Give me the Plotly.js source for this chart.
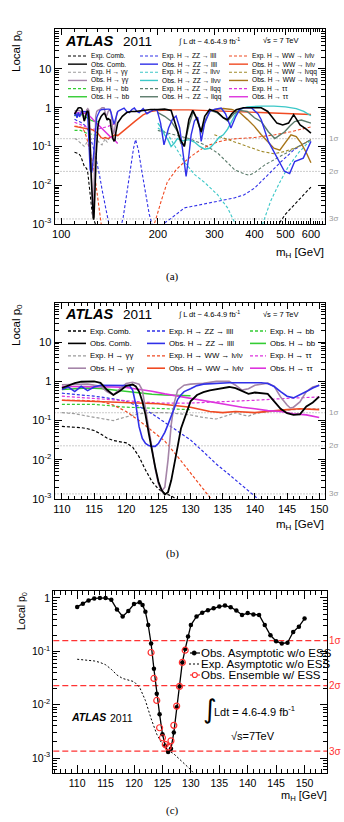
<!DOCTYPE html>
<html>
<head>
<meta charset="utf-8">
<script src="https://cdn.plot.ly/plotly-3.0.1.min.js"></script>
<style>
  html, body { margin: 0; padding: 0; background: #fff; }
  #fig { width: 344px; height: 822px; }
</style>
</head>
<body>
<div id="fig"></div>
<script>
// ---------- Local p0 scans, 110-150 GeV ----------
const combObsMass = [110,111,112,113,114,115,116,117,118,119,120,
  121,121.5,122,122.5,123,123.5,124,124.5,125,125.5,126,126.5,127,127.5,128,128.5,129,129.5,130,
  131,132,133,134,135,136,137,138,139,140,141,142,143,144,145,146,147,148,149,150];
const combObsP = [0.68,0.78,0.90,0.98,1.0,1.0,0.92,0.61,0.45,0.57,0.77,
  0.83,0.74,0.55,0.31,0.14,0.047,0.016,0.0066,0.0028,0.0017,0.0013,0.0015,0.003,0.009,0.022,0.062,0.11,0.19,0.31,
  0.45,0.53,0.59,0.64,0.69,0.72,0.67,0.58,0.48,0.52,0.49,0.48,0.31,0.20,0.155,0.14,0.145,0.23,0.29,0.41];
const combExpMass = [110,111,112,113,114,115,116,117,118,119,120,121,122,123,124,125,126,127,128,129,130,131];
const combExpP = [0.071,0.070,0.068,0.066,0.062,0.056,0.046,0.036,0.031,0.029,0.027,0.021,0.012,0.0055,0.0028,0.0018,0.0014,0.0012,0.00095,0.00075,0.0006,0.00045];
const ensMass = [123,123.5,124,124.5,125,125.5,126,126.5,127,127.5,128,128.5,129];
const ensP = [0.095,0.031,0.012,0.0037,0.0024,0.0018,0.0016,0.0021,0.0041,0.0094,0.022,0.062,0.105];

const ggObsMass = [110,112,114,116,117,118,119,120,121,122,122.5,123,123.5,124,124.5,125,125.5,126,126.5,127,
  127.5,128,129,130,132,134,136,137,138,139,140,142,143,144,145,145.5,146,147,148,149,150];
const ggObsP = [0.82,0.84,0.85,0.75,0.55,0.45,0.65,0.88,0.95,0.85,0.6,0.2,0.07,0.02,0.006,0.0025,0.0016,0.002,0.01,0.08,
  0.3,0.6,0.8,0.85,0.9,1.0,1.0,0.8,0.6,0.65,0.8,0.9,0.75,0.4,0.25,0.21,0.22,0.3,0.55,0.72,0.8];
const ggExpMass = [110,112,114,116,118,120,122,124,126,128,130,132,134,136,137,138,139,140,142,144,146,148,150];
const ggExpP = [0.16,0.15,0.13,0.115,0.1,0.125,0.15,0.16,0.16,0.15,0.14,0.12,0.11,0.14,0.16,0.14,0.13,0.15,0.17,0.18,0.19,0.2,0.2];

const bbExpMass = [110,115,120,125,130];
const bbExpP = [0.26,0.26,0.22,0.2,0.19];
const bbObsMass = [110,112,114,116,118,120,122,124,126,128,130];
const bbObsP = [0.62,0.65,0.68,0.66,0.6,0.55,0.5,0.47,0.45,0.44,0.43];

const ttExpMass = [110,115,120,125,130,135,140,145,150];
const ttExpP = [0.42,0.37,0.32,0.28,0.28,0.3,0.33,0.37,0.4];
const ttObsMass = [110,114,118,120,122,124,126,128,130,132,134,136,138,140,142,144,146,148,150];
const ttObsP = [0.74,0.74,0.72,0.7,0.64,0.56,0.48,0.42,0.37,0.32,0.28,0.25,0.22,0.2,0.18,0.17,0.15,0.14,0.12];

const zz4lObsMass = [110,111,112,113,114,115,116,117,118,119,120,
  120.5,121,121.5,122,122.5,123,123.5,124,124.5,125,125.5,126,126.5,127,127.5,128,128.5,129,
  130,131,132,134,136,138,140,141,142,143,144,145,146,147,148,149,150];
const zz4lObsP = [0.62,0.72,0.55,0.75,0.58,0.72,0.8,0.8,0.8,0.8,0.8,
  0.78,0.6,0.25,0.07,0.035,0.026,0.023,0.022,0.022,0.026,0.035,0.05,0.08,0.13,0.22,0.35,0.45,0.55,
  0.65,0.78,0.85,0.9,0.92,0.92,0.92,0.92,0.88,0.74,0.55,0.42,0.38,0.45,0.55,0.68,0.8];
const zz4lExpMass = [110,115,118,120,122,124,126,128,130,132,134,136,138,140,140.5,142];
const zz4lExpP = [0.5,0.42,0.36,0.31,0.23,0.15,0.09,0.055,0.032,0.016,0.0078,0.0042,0.0022,0.0012,0.001,0.0007];

const ww2lExpMass = [110,113,116,118,120,122,124,126,128,130,132,133.2,134];
const ww2lExpP = [0.33,0.33,0.31,0.25,0.17,0.1,0.055,0.03,0.012,0.0045,0.0017,0.001,0.0007];
const ww2lObsMass = [110,115,120,125,130,133,135,137,140,143,145,147,150];
const ww2lObsP = [0.33,0.31,0.29,0.27,0.22,0.17,0.16,0.17,0.16,0.18,0.19,0.2,0.19];

// ---------- Local p0 scans above 150 GeV ----------
const combObsMassHigh = [155,160,165,170,180,190,200,210,220,228,235,242,250,257,265,273,280,290,307,320,
  330,340,351,370,400,420,440,451,470,490,511,530,555,580,600];
const combObsPHigh = [0.6,0.75,0.8,0.8,0.85,0.9,0.9,0.92,0.85,0.35,0.15,0.1,0.5,0.85,0.5,0.24,0.6,0.9,0.77,0.55,
  0.49,0.7,0.89,1.0,1.0,1.0,0.8,0.6,0.4,0.36,0.4,0.66,0.36,0.28,0.22];
const combExpMassHigh = [465,480,500,530,560,600];
const combExpPHigh = [0.0008,0.0011,0.0018,0.003,0.005,0.009];

const zz4lObsMassHigh = [152,157,160,163,166,169,172,175,180,185,190,195,199,204,209,216,222,228,234,240,
  245,250,254,260,266,270,273,280,290,300,315,325,338,350,360,372,391,410,420,442,470,496,515,534,568,600];
const zz4lObsPHigh = [0.85,0.98,0.8,0.75,0.9,0.98,0.8,0.75,0.95,0.7,0.8,0.9,0.85,0.4,0.11,0.3,0.5,0.61,0.3,0.06,
  0.017,0.06,0.2,0.45,0.57,0.3,0.135,0.4,0.8,0.9,0.98,0.7,0.3,0.6,0.9,1.0,1.0,0.7,0.49,0.135,0.05,0.023,0.02,0.041,0.05,0.135];
const zz4lExpMassHigh = [152,156,160,164,168,170.5,174,178,183,188,195,200,204,220,242,273,307,346,372,400,442,485,534,600];
const zz4lExpPHigh = [0.0006,0.0015,0.006,0.025,0.09,0.15,0.08,0.025,0.006,0.0018,0.0006,0.0006,0.0009,0.0014,0.0026,0.0032,0.0038,0.0047,0.0057,0.0084,0.019,0.041,0.085,0.15];

const zz2l2nuObsMass = [200,205,210,215,220,225,230,240,250,260,270,280,290,300,310,320,330,340,350,360,380,420,460,500,540,570,600];
const zz2l2nuObsP = [0.4,0.3,0.2,0.15,0.1,0.12,0.16,0.14,0.15,0.13,0.1,0.085,0.09,0.12,0.17,0.2,0.28,0.45,0.7,0.9,1.05,1.1,1.1,1.05,0.95,0.8,0.62];
const zz2l2nuExpMass = [200,214,230,242,260,279,307,330,351,362,390,420,450,480,510,550,600];
const zz2l2nuExpP = [0.3,0.22,0.08,0.04,0.019,0.012,0.0057,0.0026,0.0009,0.0005,0.0005,0.0008,0.004,0.012,0.03,0.07,0.15];

const zz2l2qObsMass = [200,210,220,230,236,242,250,258,265,273,282,292,305,320,330,345,360,380,400,420,442,463,480,497,515,534,560,600];
const zz2l2qObsP = [0.75,0.6,0.45,0.25,0.12,0.11,0.35,0.8,0.5,0.22,0.5,0.85,0.75,0.55,0.45,0.7,0.85,0.8,0.55,0.44,0.24,0.16,0.2,0.24,0.33,0.44,0.48,0.4];
const zz2l2qExpMass = [200,225,250,280,307,330,347,370,385,400,430,470,520,560,600];
const zz2l2qExpP = [0.26,0.2,0.16,0.11,0.068,0.038,0.025,0.02,0.018,0.021,0.033,0.05,0.08,0.11,0.15];

const ww2lExpMassHigh = [192,197,205,214,228,242,257,273,290,307,330,355,400,463,520,600];
const ww2lExpPHigh = [0.0007,0.0013,0.004,0.012,0.025,0.04,0.06,0.085,0.11,0.13,0.15,0.16,0.17,0.2,0.24,0.32];
const ww2lObsMassHigh = [155,160,170,180,190,200,220,250,280,300,350,400,450,500,550,600];
const ww2lObsPHigh = [0.24,0.3,0.45,0.65,0.8,0.85,0.88,0.88,0.85,0.85,0.8,0.75,0.72,0.7,0.68,0.67];

const wwlnqqExpMass = [300,340,380,420,460,500,550,600];
const wwlnqqExpP = [0.2,0.14,0.1,0.075,0.065,0.075,0.1,0.15];
const wwlnqqObsMass = [300,320,340,360,380,400,420,440,460,480,500,520,540,560,580,600];
const wwlnqqObsP = [0.9,0.95,0.9,0.75,0.5,0.33,0.2,0.13,0.09,0.08,0.13,0.2,0.18,0.12,0.07,0.038];

// ---------- significance levels and tick labels ----------
const sigmaP = [0.1587, 0.02275, 0.00135];
const sigmaLabels = ['1\u03c3', '2\u03c3', '3\u03c3'];
const yTickVals = [0.001, 0.01, 0.1, 1, 10];
const yTickText = ['10<sup>-3</sup>', '10<sup>-2</sup>', '10<sup>-1</sup>', '1', '10'];
const xTickValsA = [100, 200, 300, 400, 500, 600];
const xTickValsB = [110, 115, 120, 125, 130, 135, 140, 145, 150];

// ---------- styling ----------
const W = 344, H = 822;
const X = v => v / W;
const Y = v => 1 - v / H;
const FONT = 'Liberation Sans, Arial, Helvetica, sans-serif';
const SERIF = 'Liberation Serif, DejaVu Serif, serif';
const COL = {
  comb: '#000000', ggExp: '#9c9c9c', ggObs: '#a585a8', bb: '#33cc33',
  zz4l: '#3030e8', zz2l2nu: '#3cc8c8', zz2l2q: '#5a7a6a', ww2l: '#f04a22',
  wwlnqq: '#a8761a', wwlnqqExp: '#a08a2a', tt: '#dd33dd'
};
const EXP_DASH = '3px,2px';

function axisRef(n) { return n === 1 ? '' : String(n); }

function curve(m, p, color, exp, n, width) {
  return {
    type: 'scatter', mode: 'lines', x: m, y: p,
    xaxis: 'x' + axisRef(n), yaxis: 'y' + axisRef(n),
    line: { color: color, width: width || (exp ? 1.1 : 1.4), dash: exp ? EXP_DASH : 'solid' },
    hoverinfo: 'skip'
  };
}

const traces = [];

// Panel (a): 110-600 GeV
const A = 1;
traces.push(curve(combExpMass.concat(combExpMassHigh), combExpP.concat(combExpPHigh), COL.comb, true, A));
traces.push(curve(ggExpMass, ggExpP, COL.ggExp, true, A));
traces.push(curve(bbExpMass, bbExpP, COL.bb, true, A));
traces.push(curve(zz4lExpMass.concat(zz4lExpMassHigh), zz4lExpP.concat(zz4lExpPHigh), COL.zz4l, true, A));
traces.push(curve(zz2l2nuExpMass, zz2l2nuExpP, COL.zz2l2nu, true, A));
traces.push(curve(zz2l2qExpMass, zz2l2qExpP, COL.zz2l2q, true, A));
traces.push(curve(ww2lExpMass.concat(ww2lExpMassHigh), ww2lExpP.concat(ww2lExpPHigh), COL.ww2l, true, A));
traces.push(curve(wwlnqqExpMass, wwlnqqExpP, COL.wwlnqqExp, true, A));
traces.push(curve(ttExpMass, ttExpP, COL.tt, true, A));
traces.push(curve(ww2lObsMass.concat(ww2lObsMassHigh), ww2lObsP.concat(ww2lObsPHigh), COL.ww2l, false, A));
traces.push(curve(wwlnqqObsMass, wwlnqqObsP, COL.wwlnqq, false, A));
traces.push(curve(zz2l2nuObsMass, zz2l2nuObsP, COL.zz2l2nu, false, A));
traces.push(curve(zz2l2qObsMass, zz2l2qObsP, COL.zz2l2q, false, A));
traces.push(curve(bbObsMass, bbObsP, COL.bb, false, A));
traces.push(curve(ttObsMass, ttObsP, COL.tt, false, A));
traces.push(curve(ggObsMass, ggObsP, COL.ggObs, false, A));
traces.push(curve(zz4lObsMass.concat(zz4lObsMassHigh), zz4lObsP.concat(zz4lObsPHigh), COL.zz4l, false, A));
traces.push(curve(combObsMass.concat(combObsMassHigh), combObsP.concat(combObsPHigh), COL.comb, false, A, 1.6));

// Panel (b): 110-150 GeV
const B = 2;
traces.push(curve(combExpMass, combExpP, COL.comb, true, B, 1.2));
traces.push(curve(ggExpMass, ggExpP, COL.ggExp, true, B, 1.2));
traces.push(curve(bbExpMass, bbExpP, COL.bb, true, B, 1.2));
traces.push(curve(zz4lExpMass, zz4lExpP, COL.zz4l, true, B, 1.2));
traces.push(curve(ww2lExpMass, ww2lExpP, COL.ww2l, true, B, 1.2));
traces.push(curve(ttExpMass, ttExpP, COL.tt, true, B, 1.2));
traces.push(curve(ww2lObsMass, ww2lObsP, COL.ww2l, false, B, 1.6));
traces.push(curve(bbObsMass, bbObsP, COL.bb, false, B, 1.6));
traces.push(curve(ttObsMass, ttObsP, COL.tt, false, B, 1.6));
traces.push(curve(ggObsMass, ggObsP, COL.ggObs, false, B, 1.6));
traces.push(curve(zz4lObsMass, zz4lObsP, COL.zz4l, false, B, 1.6));
traces.push(curve(combObsMass, combObsP, COL.comb, false, B, 1.8));

// Panel (c): asymptotic vs ensemble
traces.push({
  type: 'scatter', mode: 'lines', x: combExpMass, y: combExpP, xaxis: 'x3', yaxis: 'y3',
  line: { color: '#000', width: 1, dash: '2px,2px' }, hoverinfo: 'skip'
});
traces.push({
  type: 'scatter', mode: 'lines+markers', x: combObsMass, y: combObsP, xaxis: 'x3', yaxis: 'y3',
  line: { color: '#000', width: 1.3 }, marker: { color: '#000', size: 4.5 }, hoverinfo: 'skip'
});
traces.push({
  type: 'scatter', mode: 'markers', x: ensMass, y: ensP, xaxis: 'x3', yaxis: 'y3',
  marker: { symbol: 'circle-open', color: '#ff3030', size: 6, line: { width: 1.2, color: '#ff3030' } },
  hoverinfo: 'skip'
});

// ---------- axes ----------
function logMinor(d0, d1) {
  const out = [];
  for (let d = d0; d <= d1; d++) for (let k = 2; k <= 9; k++) out.push(k * Math.pow(10, d));
  return out;
}
function linMinor(a, b, step, skip) {
  const out = [];
  for (let v = a; v <= b + 1e-9; v += step) if (!skip.includes(v)) out.push(v);
  return out;
}
function axis(extra, minorVals, minorLen) {
  return Object.assign({
    showline: true, linecolor: '#000', linewidth: 1, mirror: 'allticks',
    ticks: 'inside', ticklen: 7, tickwidth: 1, tickcolor: '#000',
    showgrid: false, zeroline: false, fixedrange: true, tickmode: 'array',
    tickfont: { family: FONT, size: 11, color: '#000' },
    minor: { tickmode: 'array', tickvals: minorVals, ticks: 'inside', ticklen: minorLen || 4, tickwidth: 1, tickcolor: '#000', showgrid: false }
  }, extra);
}

const layout = {
  width: W, height: H, margin: { l: 0, r: 0, t: 0, b: 0 },
  paper_bgcolor: '#fff', plot_bgcolor: '#fff', showlegend: false, hovermode: false,
  xaxis: axis({ type: 'log', range: [1.979, 2.822], domain: [X(54.5), X(325)], anchor: 'y',
    tickvals: xTickValsA, ticktext: xTickValsA.map(String), ticklen: 6 },
    linMinor(100, 650, 10, xTickValsA), 3),
  yaxis: axis({ type: 'log', range: [-3, 2.03], domain: [Y(224), Y(29)], anchor: 'x',
    tickvals: yTickVals, ticktext: yTickText }, logMinor(-3, 1), 4),
  xaxis2: axis({ range: [108.85, 150.9], domain: [X(54.5), X(325)], anchor: 'y2',
    tickvals: xTickValsB, ticktext: xTickValsB.map(String), ticklen: 6 },
    linMinor(109, 150, 1, xTickValsB), 3),
  yaxis2: axis({ type: 'log', range: [-3, 2], domain: [Y(499), Y(303)], anchor: 'x2',
    tickvals: yTickVals, ticktext: yTickText }, logMinor(-3, 1), 4),
  xaxis3: axis({ range: [105.8, 154], domain: [X(53.3), X(327.3)], anchor: 'y3',
    tickvals: xTickValsB, ticktext: xTickValsB.map(String), ticklen: 8,
    tickfont: { family: FONT, size: 10.5, color: '#000' } },
    linMinor(106, 154, 1, xTickValsB), 4),
  yaxis3: axis({ type: 'log', range: [-3.28, 0.13], domain: [Y(773), Y(591)], anchor: 'x3',
    tickvals: yTickVals.slice(0, 4), ticktext: yTickText.slice(0, 4),
    tickfont: { family: FONT, size: 10.5, color: '#000' } }, logMinor(-4, 0), 4),
  shapes: [],
  annotations: []
};

const shapes = layout.shapes, ann = layout.annotations;

function text(x, y, t, size, opts) {
  return Object.assign({
    xref: 'paper', yref: 'paper', x: X(x), y: Y(y), text: t, showarrow: false,
    font: { family: FONT, size: size, color: '#000' }, xanchor: 'left', yanchor: 'middle', borderpad: 0
  }, opts || {});
}

// significance levels
[['', 'x', '#9a9a9a', '1px,2px', 1, 333, 8], ['2', 'x2', '#9a9a9a', '1px,2px', 1, 333, 8],
 ['3', 'x3', '#ff3333', '6px,3px', 1.4, 335, 10]].forEach(([n, xa, color, dash, w, lx, fs]) => {
  sigmaP.forEach((p, i) => {
    shapes.push({ type: 'line', xref: xa + ' domain', yref: 'y' + n, x0: 0, x1: 1, y0: p, y1: p,
      line: { color: color, width: w, dash: dash }, layer: 'below' });
    ann.push({ xref: 'paper', yref: 'y' + n, x: X(lx), y: Math.log10(p), text: sigmaLabels[i],
      showarrow: false, xanchor: 'center', yanchor: 'middle',
      font: { family: FONT, size: fs, color: color } });
  });
});

// headers for (a) and (b)
[41, 314].forEach(yy => {
  ann.push(text(64, yy, '<b><i>ATLAS</i></b>', 14.5));
  ann.push(text(122, yy + 0.5, '2011', 13.5));
  ann.push(text(177, yy, '\u222b L dt ~ 4.6-4.9 fb<sup>-1</sup>', 7.5));
  ann.push(text(262, yy, '\u221as = 7 TeV', 7.5));
});

// legend for (a): 3 columns x 6 rows
const legendA = [
  [['Exp. Comb.', COL.comb, 1], ['Obs. Comb.', COL.comb, 0], ['Exp. H \u2192 \u03b3\u03b3', COL.ggExp, 1],
   ['Obs. H \u2192 \u03b3\u03b3', COL.ggObs, 0], ['Exp. H \u2192 bb', COL.bb, 1], ['Obs. H \u2192 bb', COL.bb, 0]],
  [['Exp. H \u2192 ZZ \u2192 llll', COL.zz4l, 1], ['Obs. H \u2192 ZZ \u2192 llll', COL.zz4l, 0],
   ['Exp. H \u2192 ZZ \u2192 ll\u03bd\u03bd', COL.zz2l2nu, 1], ['Obs. H \u2192 ZZ \u2192 ll\u03bd\u03bd', COL.zz2l2nu, 0],
   ['Exp. H \u2192 ZZ \u2192 llqq', COL.zz2l2q, 1], ['Obs. H \u2192 ZZ \u2192 llqq', COL.zz2l2q, 0]],
  [['Exp. H \u2192 WW \u2192 l\u03bdl\u03bd', COL.ww2l, 1], ['Obs. H \u2192 WW \u2192 l\u03bdl\u03bd', COL.ww2l, 0],
   ['Exp. H \u2192 WW \u2192 l\u03bdqq', COL.wwlnqqExp, 1], ['Obs. H \u2192 WW \u2192 l\u03bdqq', COL.wwlnqq, 0],
   ['Exp. H \u2192 \u03c4\u03c4', COL.tt, 1], ['Obs. H \u2192 \u03c4\u03c4', COL.tt, 0]]
];
const legendB = [
  [['Exp. Comb.', COL.comb, 1], ['Obs. Comb.', COL.comb, 0], ['Exp. H \u2192 \u03b3\u03b3', COL.ggExp, 1], ['Obs. H \u2192 \u03b3\u03b3', COL.ggObs, 0]],
  [['Exp. H \u2192 ZZ \u2192 llll', COL.zz4l, 1], ['Obs. H \u2192 ZZ \u2192 llll', COL.zz4l, 0],
   ['Exp. H \u2192 WW \u2192 l\u03bdl\u03bd', COL.ww2l, 1], ['Obs. H \u2192 WW \u2192 l\u03bdl\u03bd', COL.ww2l, 0]],
  [['Exp. H \u2192 bb', COL.bb, 1], ['Obs. H \u2192 bb', COL.bb, 0], ['Exp. H \u2192 \u03c4\u03c4', COL.tt, 1], ['Obs. H \u2192 \u03c4\u03c4', COL.tt, 0]]
];
function drawLegend(cols, colX, y0, dy, size, w) {
  cols.forEach((col, c) => {
    const [x0, x1, tx] = colX[c];
    col.forEach(([label, color, exp], r) => {
      const y = y0 + r * dy;
      shapes.push({ type: 'line', xref: 'paper', yref: 'paper', x0: X(x0), x1: X(x1), y0: Y(y), y1: Y(y),
        line: { color: color, width: exp ? w * 0.8 : w, dash: exp ? EXP_DASH : 'solid' } });
      ann.push(text(tx, y, label, size));
    });
  });
}
drawLegend(legendA, [[68, 87, 89.5], [140, 158, 161], [229, 248, 251]], 56, 8.15, 6.6, 1.4);
drawLegend(legendB, [[68, 86, 88.5], [147, 165, 167.5], [250, 266, 268.5]], 331, 12.4, 7.8, 1.6);

// axis titles for (a) and (b)
[[29, 253], [303, 525]].forEach(([top, mh]) => {
  ann.push(text(17, top, 'Local p<sub>0</sub>', 11.5, { textangle: -90, xanchor: 'center', yanchor: 'top' }));
  ann.push(text(325, mh, 'm<sub>H</sub> [GeV]', 11.5, { xanchor: 'right' }));
});

// panel (c) annotations
ann.push(text(22, 591, 'Local p<sub>0</sub>', 10.5, { textangle: -90, xanchor: 'center', yanchor: 'top' }));
ann.push(text(328, 796, 'm<sub>H</sub> [GeV]', 11, { xanchor: 'right' }));
ann.push(text(70, 717, '<b><i>ATLAS</i></b>', 10.5));
ann.push(text(109, 717.5, '2011', 10.5));
ann.push(text(202, 709, '\u222b', 26, { font: { family: 'DejaVu Sans, sans-serif', size: 26, color: '#000' } }));
ann.push(text(213, 711, 'Ldt = 4.6-4.9 fb<sup>-1</sup>', 11));
ann.push(text(230, 736, '\u221as=7TeV', 11));

// legend for (c)
const legendC = ['Obs. Asymptotic w/o ESS', 'Exp. Asymptotic w/o ESS', 'Obs. Ensemble w/ ESS'];
const legendCy = [653, 664, 675];
shapes.push({ type: 'line', xref: 'paper', yref: 'paper', x0: X(190), x1: X(200), y0: Y(legendCy[0]), y1: Y(legendCy[0]), line: { color: '#000', width: 1.2 } });
shapes.push({ type: 'circle', xref: 'paper', yref: 'paper', x0: X(192), x1: X(196.4), y0: Y(legendCy[0] + 2.2), y1: Y(legendCy[0] - 2.2), fillcolor: '#000', line: { color: '#000', width: 0.5 } });
shapes.push({ type: 'line', xref: 'paper', yref: 'paper', x0: X(189), x1: X(200), y0: Y(legendCy[1]), y1: Y(legendCy[1]), line: { color: '#000', width: 1, dash: '2px,2px' } });
shapes.push({ type: 'line', xref: 'paper', yref: 'paper', x0: X(190), x1: X(200), y0: Y(legendCy[2]), y1: Y(legendCy[2]), line: { color: '#ff3030', width: 1.2 } });
shapes.push({ type: 'circle', xref: 'paper', yref: 'paper', x0: X(192.3), x1: X(197.3), y0: Y(legendCy[2] + 2.5), y1: Y(legendCy[2] - 2.5), fillcolor: '#fff', line: { color: '#ff3030', width: 1.2 } });
legendC.forEach((t, i) => ann.push(text(200, legendCy[i], t, 11.5)));

// sub-figure captions
[['(a)', 276], ['(b)', 553], ['(c)', 810]].forEach(([t, y]) => {
  ann.push(text(172, y, t, 11, { xanchor: 'center', font: { family: SERIF, size: 11, color: '#000' } }));
});

Plotly.newPlot('fig', traces, layout, { staticPlot: true, displayModeBar: false });
</script>
</body>
</html>
